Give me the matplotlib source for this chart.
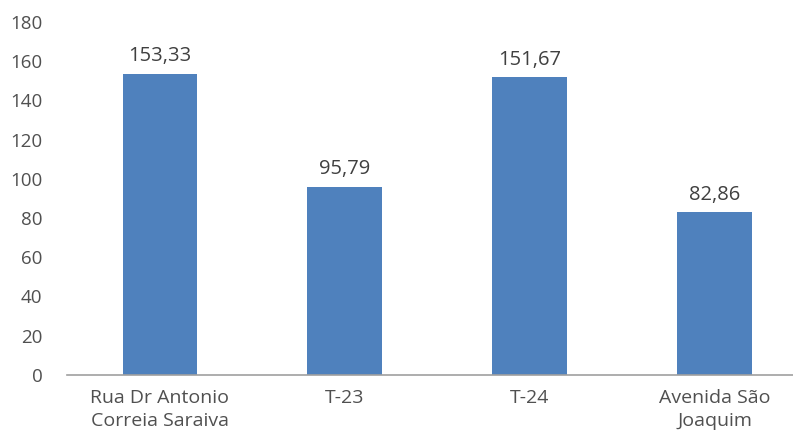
import matplotlib
matplotlib.use("Agg")
import matplotlib.pyplot as plt

categories = ["Rua Dr Antonio\nCorreia Saraiva", "T-23", "T-24", "Avenida São\nJoaquim"]
values = [153.33, 95.79, 151.67, 82.86]
labels = ["153,33", "95,79", "151,67", "82,86"]
yticks = [0, 20, 40, 60, 80, 100, 120, 140, 160, 180]

plt.rcParams['font.family'] = ['Open Sans', 'DejaVu Sans']
fig = plt.figure(figsize=(7.93, 4.37), dpi=100)
ax = fig.add_axes([0.0851, 0.142, 0.933, 0.808])
x = range(len(categories))
bars = ax.bar(x, values, width=0.405, color='#4F81BD')
for xi, v, l in zip(x, values, labels):
    ax.text(xi, v + 4, l, ha='center', va='bottom', fontsize=14.5, color='#404040')
ax.set_xlim(-0.5, 3.5)
ax.set_ylim(0, 180)
ax.set_yticks(yticks)
ax.set_xticks(list(x))
ax.set_xticklabels(categories, fontsize=14, color='#505050', linespacing=1.35)
ax.tick_params(axis='y', labelsize=13.5, labelcolor='#505050', length=0, pad=18)
ax.tick_params(axis='x', length=0, pad=10)
for s in ['top', 'right', 'left']:
    ax.spines[s].set_visible(False)
ax.spines['bottom'].set_color('#A0A0A0')
ax.spines['bottom'].set_linewidth(1.2)
fig.savefig('out.png', dpi=100)
